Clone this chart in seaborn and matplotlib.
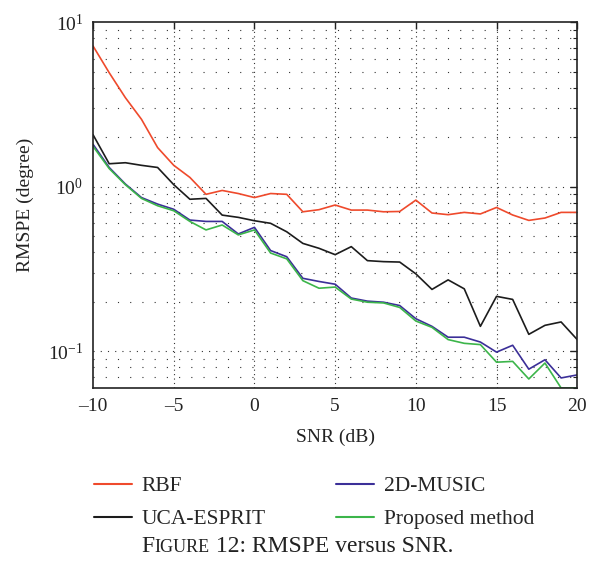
import numpy as np
import pandas as pd
import matplotlib
matplotlib.use("Agg")
import matplotlib.pyplot as plt
import matplotlib.ticker as mticker
from matplotlib.lines import Line2D
from matplotlib.offsetbox import TextArea, HPacker, AnchoredOffsetbox
import seaborn as sns

# ---- data -------------------------------------------------------------
snr = list(range(-10, 21))

rbf = [7.16, 4.93, 3.48, 2.57, 1.73, 1.35, 1.14, 0.90, 0.95, 0.91, 0.86,
       0.91, 0.90, 0.705, 0.726, 0.775, 0.722, 0.722, 0.705, 0.708, 0.830,
       0.693, 0.677, 0.699, 0.684, 0.749, 0.674, 0.625, 0.646, 0.699, 0.699]

uca_esprit = [2.07, 1.38, 1.40, 1.35, 1.31, 1.03, 0.84, 0.85, 0.673, 0.652,
              0.622, 0.600, 0.533, 0.453, 0.423, 0.387, 0.433, 0.356, 0.351,
              0.349, 0.296, 0.238, 0.272, 0.240, 0.142, 0.216, 0.207, 0.127,
              0.144, 0.151, 0.118]

music_2d = [1.81, 1.31, 1.04, 0.86, 0.785, 0.73, 0.628, 0.616, 0.616, 0.517,
            0.567, 0.410, 0.376, 0.278, 0.266, 0.256, 0.211, 0.202, 0.199,
            0.190, 0.158, 0.142, 0.122, 0.122, 0.114, 0.099, 0.109, 0.078,
            0.089, 0.069, 0.072]

proposed = [1.76, 1.29, 1.03, 0.85, 0.767, 0.715, 0.616, 0.547, 0.586, 0.510,
            0.547, 0.396, 0.365, 0.269, 0.242, 0.246, 0.208, 0.199, 0.197,
            0.185, 0.153, 0.140, 0.118, 0.112, 0.110, 0.086, 0.087, 0.068,
            0.085, 0.060, 0.060]

methods = ["RBF", "UCA-ESPRIT", "2D-MUSIC", "Proposed method"]
colors = ["#ef4a2c", "#1c1c1c", "#3b2f98", "#3cb54a"]
x_ticks = [-10, -5, 0, 5, 10, 15, 20]

df = pd.DataFrame({
    "SNR": snr * 4,
    "RMSPE": rbf + uca_esprit + music_2d + proposed,
    "Method": [m for m in methods for _ in snr],
})

# ---- style ------------------------------------------------------------
sns.set_style("white")
serif = "Liberation Serif"
plt.rcParams["font.family"] = [serif, "DejaVu Serif"]
plt.rcParams["mathtext.fontset"] = "custom"
plt.rcParams["mathtext.rm"] = serif
plt.rcParams["mathtext.it"] = serif + ":italic"
plt.rcParams["axes.unicode_minus"] = True
FS = 14
INK = "#222222"

fig = plt.figure(figsize=(5.89, 5.68), dpi=100)
ax = fig.add_axes([0.158, 0.317, 0.822, 0.644])

sns.lineplot(data=df, x="SNR", y="RMSPE", hue="Method", hue_order=methods,
             palette=colors, linewidth=1.2, legend=False, ax=ax)

ax.set_yscale("log")
ax.set_xlim(-10, 20)
ax.set_ylim(0.06, 10)

# ticks: inward on all four sides
ax.set_xticks(x_ticks)
ax.set_xticklabels([f"{t}".replace("-", "\u2013") for t in x_ticks])
ax.yaxis.set_major_locator(mticker.LogLocator(base=10, numticks=10))
ax.yaxis.set_minor_locator(mticker.LogLocator(base=10, subs=np.arange(2, 10), numticks=20))
ax.yaxis.set_minor_formatter(mticker.NullFormatter())
ax.tick_params(axis="both", which="both", direction="in", top=True, right=True,
               labelsize=FS, colors=INK, labelcolor=INK)
ax.tick_params(axis="both", which="major", length=5, width=1.0, pad=7)
ax.tick_params(axis="y", which="minor", length=3, width=0.8)
for s in ax.spines.values():
    s.set_linewidth(1.2)
    s.set_color(INK)

# dotted grid
for xv in x_ticks[1:-1]:
    ax.axvline(xv, color="#333333", lw=0.8, ls=(0, (1, 3)), zorder=0.5)
for dec in [0.1, 1.0]:
    ax.axhline(dec, color="#333333", lw=0.8, ls=(0, (1, 5.5)), zorder=0.5)
for dec in [0.01, 0.1, 1.0]:
    for m in range(2, 10):
        v = dec * m
        if 0.06 < v < 10:
            ax.axhline(v, color="#333333", lw=0.8, ls=(0, (1, 10)), zorder=0.5)

ax.set_xlabel("SNR (dB)", fontsize=FS, labelpad=10, color=INK)
ax.set_ylabel("RMSPE (degree)", fontsize=FS, labelpad=10, color=INK)

# legend below the axes, two columns
LFS = 15.5
handles = [Line2D([], [], color=c, lw=1.5) for c in colors]
fig.legend(handles, methods, ncol=2, frameon=False, fontsize=LFS,
           loc="center left", bbox_to_anchor=(0.142, 0.115),
           borderpad=0, handlelength=1.75, handletextpad=0.45,
           columnspacing=3.27, labelspacing=0.6)

# caption with small-caps "Figure"
big, small = 17, 13
parts = [TextArea("F", textprops=dict(size=big, family=serif, color=INK)),
         TextArea("IGURE", textprops=dict(size=small, family=serif, color=INK)),
         TextArea(" 12: RMSPE versus SNR.", textprops=dict(size=big, family=serif, color=INK))]
box = HPacker(children=parts, align="baseline", pad=0, sep=0)
anchored = AnchoredOffsetbox(loc="center", child=box, frameon=False,
                             bbox_to_anchor=(0.505, 0.038),
                             bbox_transform=fig.transFigure, borderpad=0)
fig.add_artist(anchored)

fig.savefig("out.png", dpi=100)
